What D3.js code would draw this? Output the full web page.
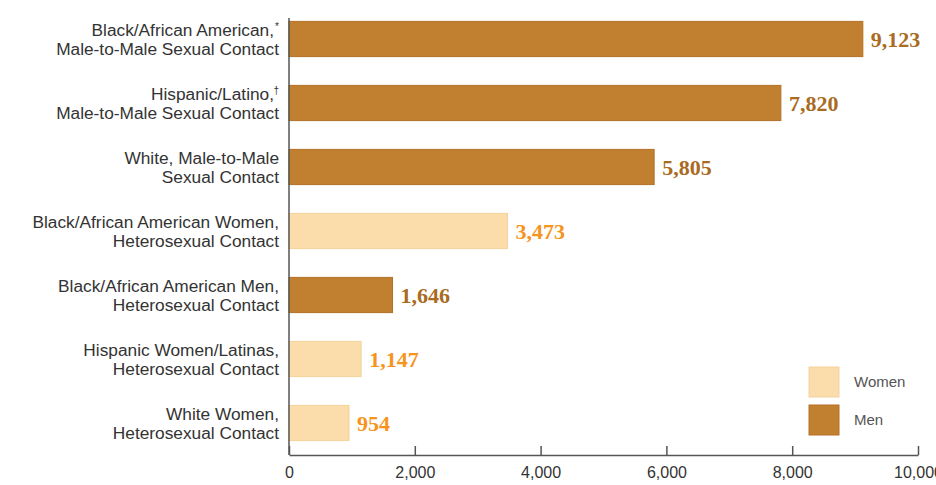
<!DOCTYPE html>
<html>
<head>
<meta charset="utf-8">
<script src="https://cdn.jsdelivr.net/npm/d3@7"></script>
<style>
  body { margin: 0; background: #fff; }
  svg { display: block; }
  .cat { font-family: "Liberation Sans", Arial, sans-serif; font-size: 17.3px; fill: #333; }
  .val { font-family: "Liberation Serif", serif; font-weight: bold; font-size: 22px; }
  .axis text { font-family: "Liberation Sans", Arial, sans-serif; font-size: 16px; fill: #333; }
  .axis path, .axis line { stroke: #555; stroke-width: 1.5; }
  .legend text { font-family: "Liberation Sans", Arial, sans-serif; font-size: 15px; fill: #555; }
</style>
</head>
<body>
<svg width="936" height="485"></svg>
<script>
// data
var categories = [
  ["Black/African American,", "Male-to-Male Sexual Contact"],
  ["Hispanic/Latino,", "Male-to-Male Sexual Contact"],
  ["White, Male-to-Male", "Sexual Contact"],
  ["Black/African American Women,", "Heterosexual Contact"],
  ["Black/African American Men,", "Heterosexual Contact"],
  ["Hispanic Women/Latinas,", "Heterosexual Contact"],
  ["White Women,", "Heterosexual Contact"]
];
var marks = ["*", "\u2020", "", "", "", "", ""];
var values = [9123, 7820, 5805, 3473, 1646, 1147, 954];
var groups = ["Men", "Men", "Men", "Women", "Men", "Women", "Women"];
var legendKeys = ["Women", "Men"];
var ticks = [0, 2000, 4000, 6000, 8000, 10000];

var fill = { Women: "#fbdcab", Men: "#c1802f" },
    edge = { Women: "#f6d29c", Men: "#b17126" },
    txt  = { Women: "#f7941d", Men: "#a96b22" };

var svg = d3.select("svg"),
    x0 = 289, x1 = 918, axisY = 455;

var x = d3.scaleLinear().domain([0, 10000]).range([x0, x1]);
var y = d3.scaleBand().domain(d3.range(values.length))
    .range([7, axisY]).paddingInner(0.45).paddingOuter(0.225);

// bars
svg.selectAll(".bar")
  .data(values)
  .enter().append("rect")
    .attr("class", "bar")
    .attr("x", x(0))
    .attr("y", function(d, i) { return y(i); })
    .attr("width", function(d) { return x(d) - x(0); })
    .attr("height", y.bandwidth())
    .attr("fill", function(d, i) { return fill[groups[i]]; })
    .attr("stroke", function(d, i) { return edge[groups[i]]; })
    .attr("stroke-width", 1);

// value labels
svg.selectAll(".val")
  .data(values)
  .enter().append("text")
    .attr("class", "val")
    .attr("x", function(d) { return x(d) + 8; })
    .attr("y", function(d, i) { return y(i) + y.bandwidth() / 2; })
    .attr("dy", "0.35em")
    .attr("fill", function(d, i) { return txt[groups[i]]; })
    .text(function(d) { return d3.format(",")(d); });

// category labels
var cat = svg.selectAll(".cat")
  .data(categories)
  .enter().append("text")
    .attr("class", "cat")
    .attr("text-anchor", "end")
    .attr("transform", function(d, i) {
      return "translate(279," + (y(i) + y.bandwidth() / 2) + ")";
    });

cat.each(function(lines, i) {
  var t = d3.select(this);
  t.append("tspan").attr("x", marks[i] ? -5 : 0).attr("y", -3.5).text(lines[0]);
  if (marks[i]) {
    t.append("tspan").attr("x", 0).attr("y", -9).style("font-size", "10px").text(marks[i]);
  }
  t.append("tspan").attr("x", 0).attr("y", 15.5).text(lines[1]);
});

// x axis (the last label runs off the right edge, as in the original)
var axis = svg.append("g")
  .attr("class", "axis")
  .attr("transform", "translate(0," + axisY + ")")
  .call(d3.axisBottom(x).tickValues(ticks).tickSize(-9).tickSizeOuter(0)
    .tickFormat(d3.format(",")));
axis.selectAll("text").attr("y", 12).attr("dy", "0.71em");

// y axis line
svg.append("line")
  .attr("class", "yline")
  .attr("x1", x0).attr("x2", x0)
  .attr("y1", 18).attr("y2", axisY)
  .attr("stroke", "#555").attr("stroke-width", 1.5);

// legend
var legend = svg.append("g").attr("class", "legend");
legend.selectAll("rect")
  .data(legendKeys)
  .enter().append("rect")
    .attr("x", 809)
    .attr("y", function(d, i) { return 367 + i * 38; })
    .attr("width", 30).attr("height", 30)
    .attr("fill", function(d) { return fill[d]; })
    .attr("stroke", function(d) { return edge[d]; });
legend.selectAll("text")
  .data(legendKeys)
  .enter().append("text")
    .attr("x", 854)
    .attr("y", function(d, i) { return 382 + i * 38; })
    .attr("dy", "0.35em")
    .text(function(d) { return d; });
</script>
</body>
</html>
